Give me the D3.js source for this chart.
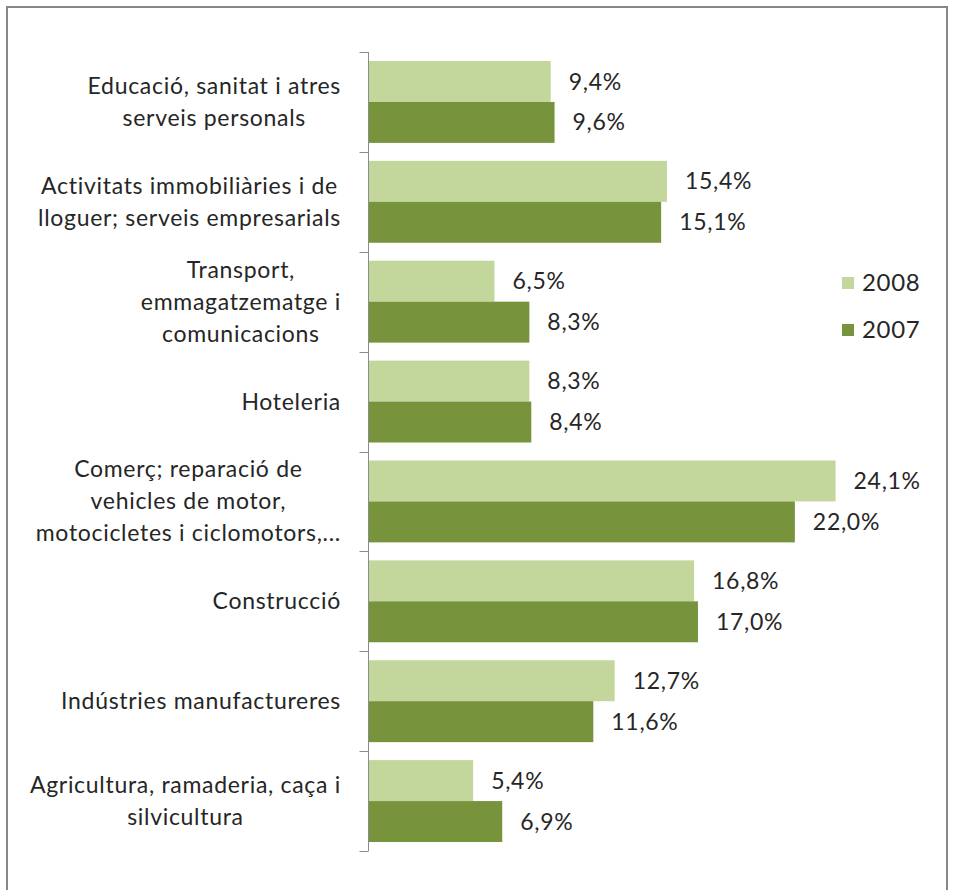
<!DOCTYPE html>
<html>
<head>
<meta charset="utf-8">
<script src="https://cdn.jsdelivr.net/npm/d3@7"></script>
<style>
  body { margin: 0; background: #fff; }
  svg text { font-family: Lato, "Open Sans", sans-serif; fill: #262626; letter-spacing: 0.7px; }
</style>
</head>
<body>
<svg id="chart" width="954" height="890"></svg>
<script>
// categories, top to bottom, with the line breaks as drawn
const categories = [
  ["Educació, sanitat i atres", "serveis personals"],
  ["Activitats immobiliàries i de", "lloguer; serveis empresarials"],
  ["Transport,", "emmagatzematge i", "comunicacions"],
  ["Hoteleria"],
  ["Comerç; reparació de", "vehicles de motor,", "motocicletes i ciclomotors,..."],
  ["Construcció"],
  ["Indústries manufactureres"],
  ["Agricultura, ramaderia, caça i", "silvicultura"]
];
const values2008 = [9.4, 15.4, 6.5, 8.3, 24.1, 16.8, 12.7, 5.4];
const values2007 = [9.6, 15.1, 8.3, 8.4, 22.0, 17.0, 11.6, 6.9];
const seriesNames = ["2008", "2007"];
const colors = ["#c3d69b", "#77933c"];

const svg = d3.select("#chart");

// chart frame
svg.append("rect")
  .attr("x", 7).attr("y", 7)
  .attr("width", 940).attr("height", 900)
  .attr("fill", "none")
  .attr("stroke", "#878787")
  .attr("stroke-width", 2);

const axisX = 368.5;
const y = d3.scaleBand()
  .domain(d3.range(categories.length))
  .range([52, 851])
  .paddingInner(0.18)
  .paddingOuter(0.09);

const x = d3.scaleLinear().domain([0, 25]).range([axisX, axisX + 25 * 19.38]);

const sub = d3.scaleBand().domain([0, 1]).range([0, y.bandwidth()]);

const rows = categories.map((c, i) => ({ i, lines: c, vals: [values2008[i], values2007[i]] }));

const g = svg.selectAll("g.cat").data(rows).enter().append("g").attr("class", "cat");

g.selectAll("rect")
  .data(d => d.vals.map((v, k) => ({ v, k, i: d.i })))
  .enter().append("rect")
  .attr("x", axisX)
  .attr("y", d => y(d.i) + sub(d.k))
  .attr("width", d => x(d.v) - axisX)
  .attr("height", sub.bandwidth())
  .attr("fill", d => colors[d.k]);

g.selectAll("text.val")
  .data(d => d.vals.map((v, k) => ({ v, k, i: d.i })))
  .enter().append("text")
  .attr("class", "val")
  .attr("x", d => x(d.v) + 18)
  .attr("y", d => y(d.i) + sub(d.k) + sub.bandwidth() / 2)
  .attr("dy", "0.35em")
  .attr("font-size", 23)
  .text(d => d.v.toFixed(1).replace(".", ",") + "%");

// axis with outer ticks at band boundaries
const axisG = svg.append("g").attr("stroke", "#8c8c8c").attr("stroke-width", 1);
const y0 = 52;
axisG.append("line").attr("x1", axisX).attr("x2", axisX).attr("y1", y0).attr("y2", 851);
d3.range(categories.length + 1).forEach(k => {
  const ty = Math.round(y0 + k * (851 - y0) / categories.length) + 0.5;
  axisG.append("line").attr("x1", axisX - 9).attr("x2", axisX).attr("y1", ty).attr("y2", ty);
});

// category labels: block right-aligned, lines centered
const lineH = 32;
const labelRight = 341;
g.each(function(d) {
  const sel = d3.select(this);
  const cy = y(d.i) + y.bandwidth() / 2;
  const t = sel.append("text").attr("font-size", 23).attr("text-anchor", "middle");
  const n = d.lines.length;
  d.lines.forEach((ln, j) => {
    t.append("tspan")
      .attr("y", cy + (j - (n - 1) / 2) * lineH)
      .attr("dy", "0.35em")
      .text(ln);
  });
  let maxW = 0;
  t.selectAll("tspan").each(function() { maxW = Math.max(maxW, this.getComputedTextLength()); });
  t.selectAll("tspan").attr("x", labelRight - maxW / 2);
});

// legend
const legend = svg.selectAll("g.leg").data(seriesNames).enter().append("g")
  .attr("transform", (d, k) => `translate(842, ${283 + k * 47})`);
legend.append("rect").attr("x", 0).attr("y", -6).attr("width", 12).attr("height", 12)
  .attr("fill", (d, k) => colors[k]);
legend.append("text").attr("x", 20).attr("y", 0).attr("dy", "0.35em")
  .attr("font-size", 24).text(d => d);
</script>
</body>
</html>
